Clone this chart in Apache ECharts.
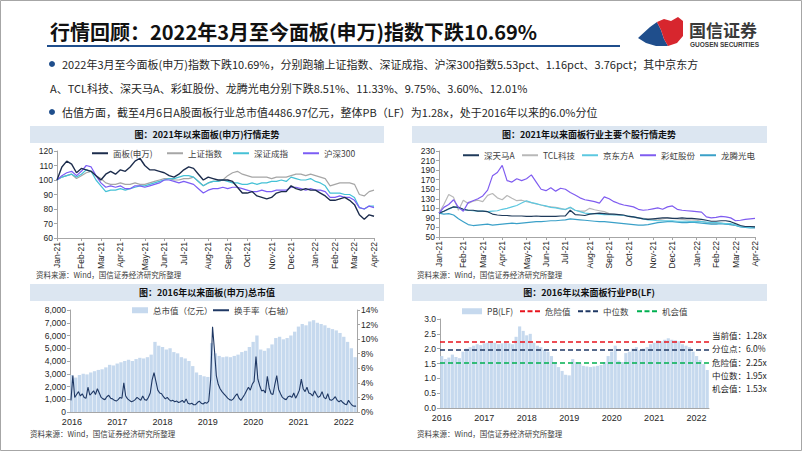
<!DOCTYPE html>
<html><head><meta charset="utf-8">
<script src="https://cdn.jsdelivr.net/npm/echarts@6/dist/echarts.min.js"></script>
<style>html,body{margin:0;padding:0;background:#fff}#c{width:802px;height:451px}</style>
</head><body><div id="c"></div>
<script>
// ---------- Chart 1 / 2 : weekly categories (2021-01 .. 2022-04) ----------
const weeks = [
 '2021-01-01','2021-01-08','2021-01-15','2021-01-22','2021-01-29',
 '2021-02-05','2021-02-12','2021-02-19','2021-02-26',
 '2021-03-05','2021-03-12','2021-03-19','2021-03-26',
 '2021-04-02','2021-04-09','2021-04-16','2021-04-23','2021-04-30',
 '2021-05-07','2021-05-14','2021-05-21','2021-05-28',
 '2021-06-04','2021-06-11','2021-06-18','2021-06-25',
 '2021-07-02','2021-07-09','2021-07-16','2021-07-23','2021-07-30',
 '2021-08-06','2021-08-13','2021-08-20','2021-08-27',
 '2021-09-03','2021-09-10','2021-09-17','2021-09-24',
 '2021-10-01','2021-10-08','2021-10-15','2021-10-22','2021-10-29',
 '2021-11-05','2021-11-12','2021-11-19','2021-11-26',
 '2021-12-03','2021-12-10','2021-12-17','2021-12-24','2021-12-31',
 '2022-01-07','2022-01-14','2022-01-21','2022-01-28',
 '2022-02-04','2022-02-11','2022-02-18','2022-02-25',
 '2022-03-04','2022-03-11','2022-03-18','2022-03-25',
 '2022-04-01'];

// Chart 1 series (indexed, 2021-01 = 100)
const panelIdx = [100,109,113,111,105, 108,107,106,103, 100,104,106,104, 107,106,109,113,115, 110,107,107,106, 105,103,102,104, 107,109,108,104,100, 102,101,100,100, 100,99,95,91, 91,92,89,88,87, 88,91,92,92, 96,94,93,94,93, 93,91,89,86, 86,87,88,86, 83,76,73,76, 75];
const sseIdx   = [100,102,103,104,101, 103,105,106,103, 101,98,97,97, 98,97,97,98,97, 97,98,99,100, 101,101,100,100, 101,101,102,99,96, 98,99,99,100, 103,105,106,104, 103,102,102,102,102, 101,102,102,102, 103,104,104,103,104, 103,102,101,96, 97,98,98,98, 97,90,89,92, 93];
const szseIdx  = [100,102,103,104,102, 104,107,106,100, 96,92,93,93, 94,93,94,95,96, 96,97,98,99, 100,101,101,102, 103,103,102,99,96, 98,99,99,100, 99,98,98,97, 97,98,97,98,98, 99,99,100,99, 102,101,100,100,101, 99,98,96,91, 91,91,90,90, 88,81,80,82, 82];
const hs300Idx = [100,103,105,106,103, 106,110,109,103, 98,95,96,95, 96,94,94,96,96, 95,96,97,98, 100,100,99,98, 99,98,97,94,91, 93,94,94,95, 94,95,95,94, 93,92,92,93,92, 92,93,93,93, 95,95,94,93,94, 93,93,92,88, 88,89,88,88, 86,81,80,82, 81];

// Chart 2 series (indexed)
const tianma  = [100,104,109,113,112, 108,106,106,104, 104,103,98,96, 95,95,94,94,94, 93,93,94,93, 93,93,93,94, 94,106,97,96,95, 98,99,100,99, 98,98,97,96, 93,92,90,88,87, 88,89,90,90, 89,89,90,89,89, 88,87,85,83, 83,84,84,82, 78,74,72,72, 71];
const tcl     = [100,118,139,133,106, 127,120,125,127, 124,137,141,132, 128,137,131,126,127, 124,122,119,117, 114,113,112,110, 107,112,106,104,104, 110,107,105,103, 99,97,96,95, 93,91,90,89,88, 87,86,88,90, 89,88,87,86,86, 85,83,80,78, 78,79,77,76, 74,72,71,72, 72];
const boe     = [100,104,108,113,111, 108,106,105,104, 104,103,104,105, 108,110,113,116,121, 126,122,120,117, 115,112,111,109, 108,112,106,103,100, 99,99,98,97, 97,96,96,95, 94,92,90,88,86, 85,84,84,84, 84,83,83,83,82, 82,82,81,80, 80,79,78,78, 75,72,71,70, 70];
const caihong = [100,112,118,128,112, 104,122,126,130, 136,148,178,185, 200,168,165,172,168, 172,180,165,150, 147,153,146,152, 150,143,138,132,128, 126,124,121,134, 130,124,120,117, 115,113,108,106,107, 109,111,108,113, 115,108,106,105,104, 103,102,92,90, 91,93,92,90, 84,85,87,88, 89];
const longteng= [100,98,99,96,88, 82,76,74,75, 76,77,75,76, 77,78,79,78,79, 80,81,82,82, 83,84,84,85, 86,88,87,86,85, 84,83,82,82, 81,80,79,78, 77,76,75,75,76, 78,80,81,82, 82,81,80,80,81, 80,79,78,77, 77,78,77,76, 74,71,70,69, 69];

// ---------- Chart 3 / 4 : monthly categories 2016-01 .. 2022-04 ----------
const years = ['2016','2017','2018','2019','2020','2021','2022'];
const months = [];
years.forEach(y => { for (let m = 1; m <= 12; m++) { if (y === '2022' && m > 4) break; months.push(y + '-' + String(m).padStart(2, '0')); } });
const halfMonths = [];
months.forEach(m => { halfMonths.push(m + '-a'); halfMonths.push(m + '-b'); });

// 总市值（亿元） monthly
const mktCap = [
 2900,2700,2900,3000,2950,3100,3200,3300,3350,3500,3700,3650,
 3800,3900,4000,4100,4000,4150,4250,4200,4300,4500,5500,5200,
 5100,4900,5000,4700,4600,4300,4200,4000,3600,3100,2900,2800,
 2750,5400,4600,4400,4300,4350,4300,4400,4500,4700,4800,5100,
 5500,6000,4900,4800,5000,5300,5800,5900,5700,5800,6000,6300,
 6700,6900,6800,7100,7200,7000,6900,6800,6600,6500,6400,6200,
 5900,5500,5000,4300];
// 换手率（右轴, %） half-monthly
const turnover = [
 1.6,5.0, 2.0,2.4, 2.8,2.2, 2.5,2.0, 1.9,3.4, 2.3,2.6, 2.9,2.4, 3.2,2.6, 2.0,1.8, 1.7,2.1, 2.3,1.9, 1.8,1.6,
 1.5,1.7, 2.0,1.9, 4.0,2.2, 1.8,1.6, 1.4,1.5, 1.7,2.0, 1.8,1.6, 2.2,1.7, 1.6,2.0, 2.6,4.4, 5.4,4.2, 3.0,2.6,
 2.5,2.1, 1.8,2.0, 1.7,1.5, 1.6,1.4, 1.5,1.3, 1.4,1.6, 1.3,1.8, 1.2,1.1, 1.2,1.0, 1.0,1.3, 1.5,1.2, 1.1,1.3,
 1.2,1.5, 4.5,11.7, 8.5,5.0, 3.8,3.2, 2.8,2.5, 2.2,1.9, 1.7,1.6, 1.8,2.2, 2.5,1.9, 1.6,2.0, 2.4,2.9, 3.4,3.0,
 3.8,4.2, 7.6,4.5, 3.6,2.9, 3.0,2.6, 4.9,3.3, 2.5,2.4, 3.8,5.0, 3.1,2.5, 2.0,1.8, 1.7,2.1, 2.2,2.0, 2.6,1.9,
 2.4,3.0, 4.5,3.2, 2.8,3.4, 2.6,2.5, 2.2,2.9, 2.4,2.0, 2.2,2.8, 2.0,1.8, 2.5,1.7, 1.6,1.8, 2.1,1.6, 1.4,1.6,
 1.3,1.1, 1.0,1.6, 1.2,0.9, 0.8,0.8];
// PB(LF) monthly
const pb = [
 1.75,1.65,1.70,1.80,1.72,1.68,1.90,2.00,2.05,2.10,2.15,2.12,
 2.18,2.20,2.22,2.20,2.15,2.18,2.20,2.18,2.15,2.40,2.75,2.60,
 2.45,2.50,2.20,2.10,2.05,1.95,1.90,1.75,1.55,1.38,1.25,1.12,
 1.10,1.65,1.55,1.50,1.42,1.40,1.38,1.40,1.42,1.45,1.55,1.75,
 1.90,2.10,1.60,1.55,1.85,1.90,2.00,2.05,1.95,2.00,2.05,2.15,
 2.20,2.28,2.25,2.30,2.35,2.30,2.28,2.25,2.15,2.10,2.05,1.90,
 1.75,1.62,1.48,1.28];
const pbCurrent = 1.28, pbPercentile = '6.0%', pbDanger = 2.25, pbMedian = 1.95, pbChance = 1.53;

// ---------- helpers ----------
const FONT = '"Noto Sans CJK SC", "Noto Sans", sans-serif';
const NUMFONT = '"Liberation Sans", Arial, sans-serif';
const MON = ['Jan','Feb','Mar','Apr','May','Jun','Jul','Aug','Sep','Oct','Nov','Dec'];
const monthStart = (idx) => idx === 0 || weeks[idx].slice(5,7) !== weeks[idx-1].slice(5,7);
const yearStartM = (idx) => idx % 12 === 0;
const axisGray = '#a6a6a6';
const lblStyle = {fontSize: 8.5, color: '#262626', fontFamily: NUMFONT};
const legendText = {fontSize: 8.5, color: '#404040', fontFamily: FONT};
const DASH_ICON = 'path://M0,0H5V2H0Z M7.5,0H12.5V2H7.5Z M15,0H20V2H15Z';

function lg(name, left, top, extra) {
  return Object.assign({data: [name], left: left, top: top, padding: 0, icon: 'rect', itemWidth: 16, itemHeight: 2,
    itemGap: 0, textStyle: legendText, selectedMode: false}, extra || {});
}
function weekX(gi) {
  return {type: 'category', gridIndex: gi, data: weeks, boundaryGap: false,
    axisLine: {lineStyle: {color: axisGray}},
    axisTick: {interval: monthStart, length: 3, lineStyle: {color: axisGray}},
    axisLabel: {interval: monthStart, rotate: 90, margin: 4, ...lblStyle,
      formatter: v => MON[+v.slice(5,7) - 1] + '-' + v.slice(2,4)}};
}
function valY(gi, min, max, itv, fmt) {
  return {type: 'value', gridIndex: gi, min: min, max: max, interval: itv,
    splitLine: {show: false},
    axisLine: {show: true, lineStyle: {color: axisGray}},
    axisTick: {show: true, length: 3, lineStyle: {color: axisGray}},
    axisLabel: {margin: 4, ...lblStyle, formatter: fmt}};
}
function ln(name, data, color, xi, yi, w, z) {
  return {name: name, type: 'line', xAxisIndex: xi, yAxisIndex: yi, data: data, symbol: 'none',
    lineStyle: {color: color, width: w || 1.2}, itemStyle: {color: color}, z: z || 2};
}
function refLine(name, value, color) {
  return {name: name, type: 'line', xAxisIndex: 4, yAxisIndex: 4, data: [], symbol: 'none',
    lineStyle: {color: color, width: 2, type: [4, 3]}, itemStyle: {color: color},
    markLine: {silent: true, symbol: 'none', label: {show: false},
      lineStyle: {color: color, width: 1.5, type: [5, 3]}, data: [{yAxis: value}]}};
}

const chart = echarts.init(document.getElementById('c'), null, {renderer: 'svg'});

const titleStyle = (t, cx, cy) => ({type: 'text', x: cx, y: cy,
  style: {text: t, font: 'bold 9px ' + FONT, fill: '#111', textAlign: 'center', textVerticalAlign: 'middle'}});
const srcStyle = (x, y) => ({type: 'text', x: x, y: y,
  style: {text: '资料来源：Wind，国信证券经济研究所整理', font: '7.5px ' + FONT, fill: '#404040', textVerticalAlign: 'middle'}});
const note = (t, y) => ({type: 'text', x: 712, y: y,
  style: {text: t, font: '8.5px ' + FONT, fill: '#262626', textVerticalAlign: 'middle'}});

const option = {
  animation: false,
  backgroundColor: '#fff',
  graphic: {elements: [
    {type: 'rect', shape: {x: 0.5, y: 0.5, width: 801, height: 450}, style: {fill: 'none', stroke: '#a6a6a6', lineWidth: 1}},
    {type: 'text', x: 50, y: 31, style: {text: '行情回顾：2022年3月至今面板(申万)指数下跌10.69%', font: 'bold 20px ' + FONT, fill: '#111', textVerticalAlign: 'middle'}},
    {type: 'line', shape: {x1: 47, y1: 46, x2: 620, y2: 46}, style: {stroke: '#1f4e8c', lineWidth: 2}},
    // logo
    {type: 'polygon', shape: {points: [[638,38],[650,27],[657,22],[661,30],[664,39],[668,46],[656,46],[646,43]]}, style: {fill: '#1f4e8c'}},
    {type: 'polygon', shape: {points: [[657,22],[664,19],[671,21],[678,17],[683,21],[683,36],[677,43],[668,46],[664,39],[661,30]]}, style: {fill: '#d7262e'}},
    {type: 'text', x: 689, y: 29, style: {text: '国信证券', font: 'bold 17px ' + FONT, fill: '#3a3a3a', textVerticalAlign: 'middle'}},
    {type: 'text', x: 690, y: 44, style: {text: 'GUOSEN SECURITIES', font: 'bold 6.5px ' + NUMFONT, fill: '#3a3a3a', textVerticalAlign: 'middle'}},
    // bullets
    {type: 'circle', shape: {cx: 52, cy: 64, r: 3}, style: {fill: '#1f4e8c'}},
    {type: 'text', x: 62, y: 64, style: {text: '2022年3月至今面板(申万)指数下跌10.69%，分别跑输上证指数、深证成指、沪深300指数5.53pct、1.16pct、3.76pct；其中京东方', font: '11px ' + FONT, fill: '#262626', textVerticalAlign: 'middle'}},
    {type: 'text', x: 50, y: 88, style: {text: 'A、TCL科技、深天马A、彩虹股份、龙腾光电分别下跌8.51%、11.33%、9.75%、3.60%、12.01%', font: '11px ' + FONT, fill: '#262626', textVerticalAlign: 'middle'}},
    {type: 'circle', shape: {cx: 52, cy: 112, r: 3}, style: {fill: '#1f4e8c'}},
    {type: 'text', x: 62, y: 112, style: {text: '估值方面，截至4月6日A股面板行业总市值4486.97亿元，整体PB（LF）为1.28x，处于2016年以来的6.0%分位', font: '11px ' + FONT, fill: '#262626', textVerticalAlign: 'middle'}},
    // panel title bars
    {type: 'rect', shape: {x: 30, y: 126, width: 354, height: 17}, style: {fill: '#dce6f1'}},
    {type: 'rect', shape: {x: 412, y: 126, width: 355, height: 17}, style: {fill: '#dce6f1'}},
    {type: 'rect', shape: {x: 30, y: 284, width: 354, height: 17}, style: {fill: '#dce6f1'}},
    {type: 'rect', shape: {x: 412, y: 284, width: 355, height: 17}, style: {fill: '#dce6f1'}},
    titleStyle('图：2021年以来面板(申万)行情走势', 207, 134.5),
    titleStyle('图：2021年以来面板行业主要个股行情走势', 589, 134.5),
    titleStyle('图：2016年以来面板(申万)总市值', 207, 292.5),
    titleStyle('图：2016年以来面板行业PB(LF)', 589, 292.5),
    srcStyle(36, 274), srcStyle(417, 274), srcStyle(30, 433), srcStyle(417, 433),
    note('当前值：' + pbCurrent.toFixed(2) + 'x', 335),
    note('分位点：' + pbPercentile, 348),
    note('危险值：' + pbDanger.toFixed(2) + 'x', 362),
    note('中位数：' + pbMedian.toFixed(2) + 'x', 375),
    note('机会值：' + pbChance.toFixed(2) + 'x', 388)
  ]},
  legend: [
    lg('面板(申万)', 92, 149), lg('上证指数', 167, 149), lg('深证成指', 233, 149), lg('沪深300', 303, 149),
    lg('深天马A', 463, 151), lg('TCL科技', 522, 151), lg('京东方A', 582, 151), lg('彩虹股份', 640, 151), lg('龙腾光电', 700, 151),
    lg('总市值（亿元）', 132, 306, {itemWidth: 16, itemHeight: 6}), lg('换手率（右轴）', 213, 306),
    lg('PB(LF)', 462, 307, {itemWidth: 20, itemHeight: 6}),
    lg('危险值', 520, 307, {icon: DASH_ICON, itemWidth: 20, itemHeight: 2}),
    lg('中位数', 578, 307, {icon: DASH_ICON, itemWidth: 20, itemHeight: 2}),
    lg('机会值', 637, 307, {icon: DASH_ICON, itemWidth: 20, itemHeight: 2})
  ],
  grid: [
    {left: 57, top: 151, width: 317, height: 87},
    {left: 439, top: 151, width: 316, height: 86},
    {left: 70, top: 310, width: 287, height: 102},
    {left: 440, top: 319, width: 269, height: 89}
  ],
  xAxis: [
    weekX(0), weekX(1),
    {type: 'category', gridIndex: 2, data: months, axisLine: {lineStyle: {color: axisGray}}, axisTick: {show: false},
      axisLabel: {interval: yearStartM, margin: 5, ...lblStyle, fontSize: 9, formatter: v => v.slice(0,4)}},
    {type: 'category', gridIndex: 2, data: halfMonths, show: false},
    {type: 'category', gridIndex: 3, data: months, axisLine: {lineStyle: {color: axisGray}}, axisTick: {show: false},
      axisLabel: {interval: yearStartM, margin: 5, ...lblStyle, fontSize: 9, formatter: v => v.slice(0,4)}}
  ],
  yAxis: [
    valY(0, 60, 120, 10),
    valY(1, 50, 230, 20),
    valY(2, 0, 8000, 1000, v => v.toLocaleString('en-US')),
    Object.assign(valY(2, 0, 14, 2, v => v + '%'), {position: 'right'}),
    valY(3, 0, 3, 0.5, v => v.toFixed(1))
  ],
  series: [
    ln('上证指数', sseIdx, '#a6a6a6', 0, 0, 1.2, 2),
    ln('深证成指', szseIdx, '#45c1d6', 0, 0, 1.2, 3),
    ln('沪深300', hs300Idx, '#7b5cf5', 0, 0, 1.2, 4),
    ln('面板(申万)', panelIdx, '#1c2c4c', 0, 0, 1.4, 5),

    ln('TCL科技', tcl, '#b8b8b8', 1, 1, 1.2, 2),
    ln('龙腾光电', longteng, '#3aa0c8', 1, 1, 1.2, 3),
    ln('京东方A', boe, '#5cc8e0', 1, 1, 1.2, 3),
    ln('深天马A', tianma, '#1f3a5a', 1, 1, 1.2, 4),
    ln('彩虹股份', caihong, '#7f5cf0', 1, 1, 1.2, 5),

    {name: '总市值（亿元）', type: 'bar', xAxisIndex: 2, yAxisIndex: 2, data: mktCap, barCategoryGap: '12%',
      itemStyle: {color: '#c6d9ee'}},
    ln('换手率（右轴）', turnover, '#1f3864', 3, 3, 1.1, 5),

    {name: 'PB(LF)', type: 'bar', xAxisIndex: 4, yAxisIndex: 4, data: pb, barCategoryGap: '12%',
      itemStyle: {color: '#c6d9ee'}},
    refLine('危险值', pbDanger, '#e8141e'),
    refLine('中位数', pbMedian, '#1f3864'),
    refLine('机会值', pbChance, '#00b050')
  ]
};
chart.setOption(option);
</script>
</body></html>
